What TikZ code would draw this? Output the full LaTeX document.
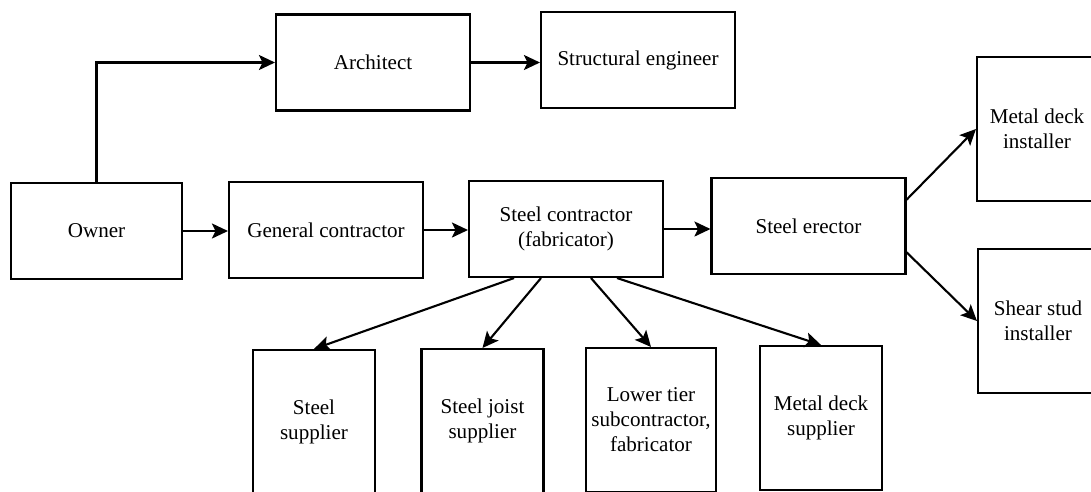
\documentclass[tikz,border=0pt]{standalone}
\usepackage{fontspec}
\setmainfont{Liberation Serif}
\usetikzlibrary{arrows.meta,calc}

\begin{document}
\begin{tikzpicture}[x=0.02cm,y=-0.02cm,>={Stealth[length=3.2mm,width=3mm,inset=0.7mm]},
    party/.style={draw,line width=1.2pt,align=center,inner sep=0pt,font=\fontsize{12}{14.2}\selectfont},
    widebox/.style={party,minimum width=3.88cm,minimum height=1.92cm},
    tallbox/.style={party,minimum width=2.44cm,minimum height=2.88cm},
    link/.style={->,line width=1.2pt}]
        \useasboundingbox (0,0) rectangle (1091,491);
        % top rows
        \node[widebox,minimum width=3.42cm] (owner) at (96.5,231) {Owner};
        \node[widebox] (arch) at (373,62.5) {Architect};
        \node[widebox] (seng) at (638,60) {Structural engineer};
        \node[widebox] (gc) at (326,230) {General contractor};
        \node[widebox] (sc) at (566,229) {Steel contractor\\(fabricator)};
        \node[widebox] (erect) at (808.5,226) {Steel erector};
        \node[tallbox,minimum width=2.4cm] (mdi) at (1037,129) {Metal deck\\installer};
        \node[tallbox,minimum width=2.4cm] (ssi) at (1038,321) {Shear stud\\installer};
        % suppliers
        \node[tallbox] (ssup) at (314,422) {Steel\\supplier};
        \node[tallbox] (jsup) at (482.5,421) {Steel joist\\supplier};
        \node[tallbox,minimum width=2.6cm] (ltier) at (651,420) {Lower tier\\subcontractor,\\fabricator};
        \node[tallbox] (mds) at (821,418) {Metal deck\\supplier};
        % links
        \draw[link] (owner.north) |- (arch.west);
        \draw[link] (arch.east) -- (arch.east -| seng.west);
        \draw[link] (owner.east) -- (owner.east -| gc.west);
        \draw[link] (gc.east) -- (gc.east -| sc.west);
        \draw[link] (sc.east) -- (sc.east -| erect.west);
        \draw[link] (erect.15) -- (mdi.west);
        \draw[link] (erect.-15) -- (ssi.west);
        \draw[link] ($(sc.south)+(-52,0)$) -- (ssup.north);
        \draw[link] ($(sc.south)+(-25,0)$) -- (jsup.north);
        \draw[link] ($(sc.south)+(25,0)$) -- (ltier.north);
        \draw[link] ($(sc.south)+(51,0)$) -- (mds.north);
\end{tikzpicture}
\end{document}
